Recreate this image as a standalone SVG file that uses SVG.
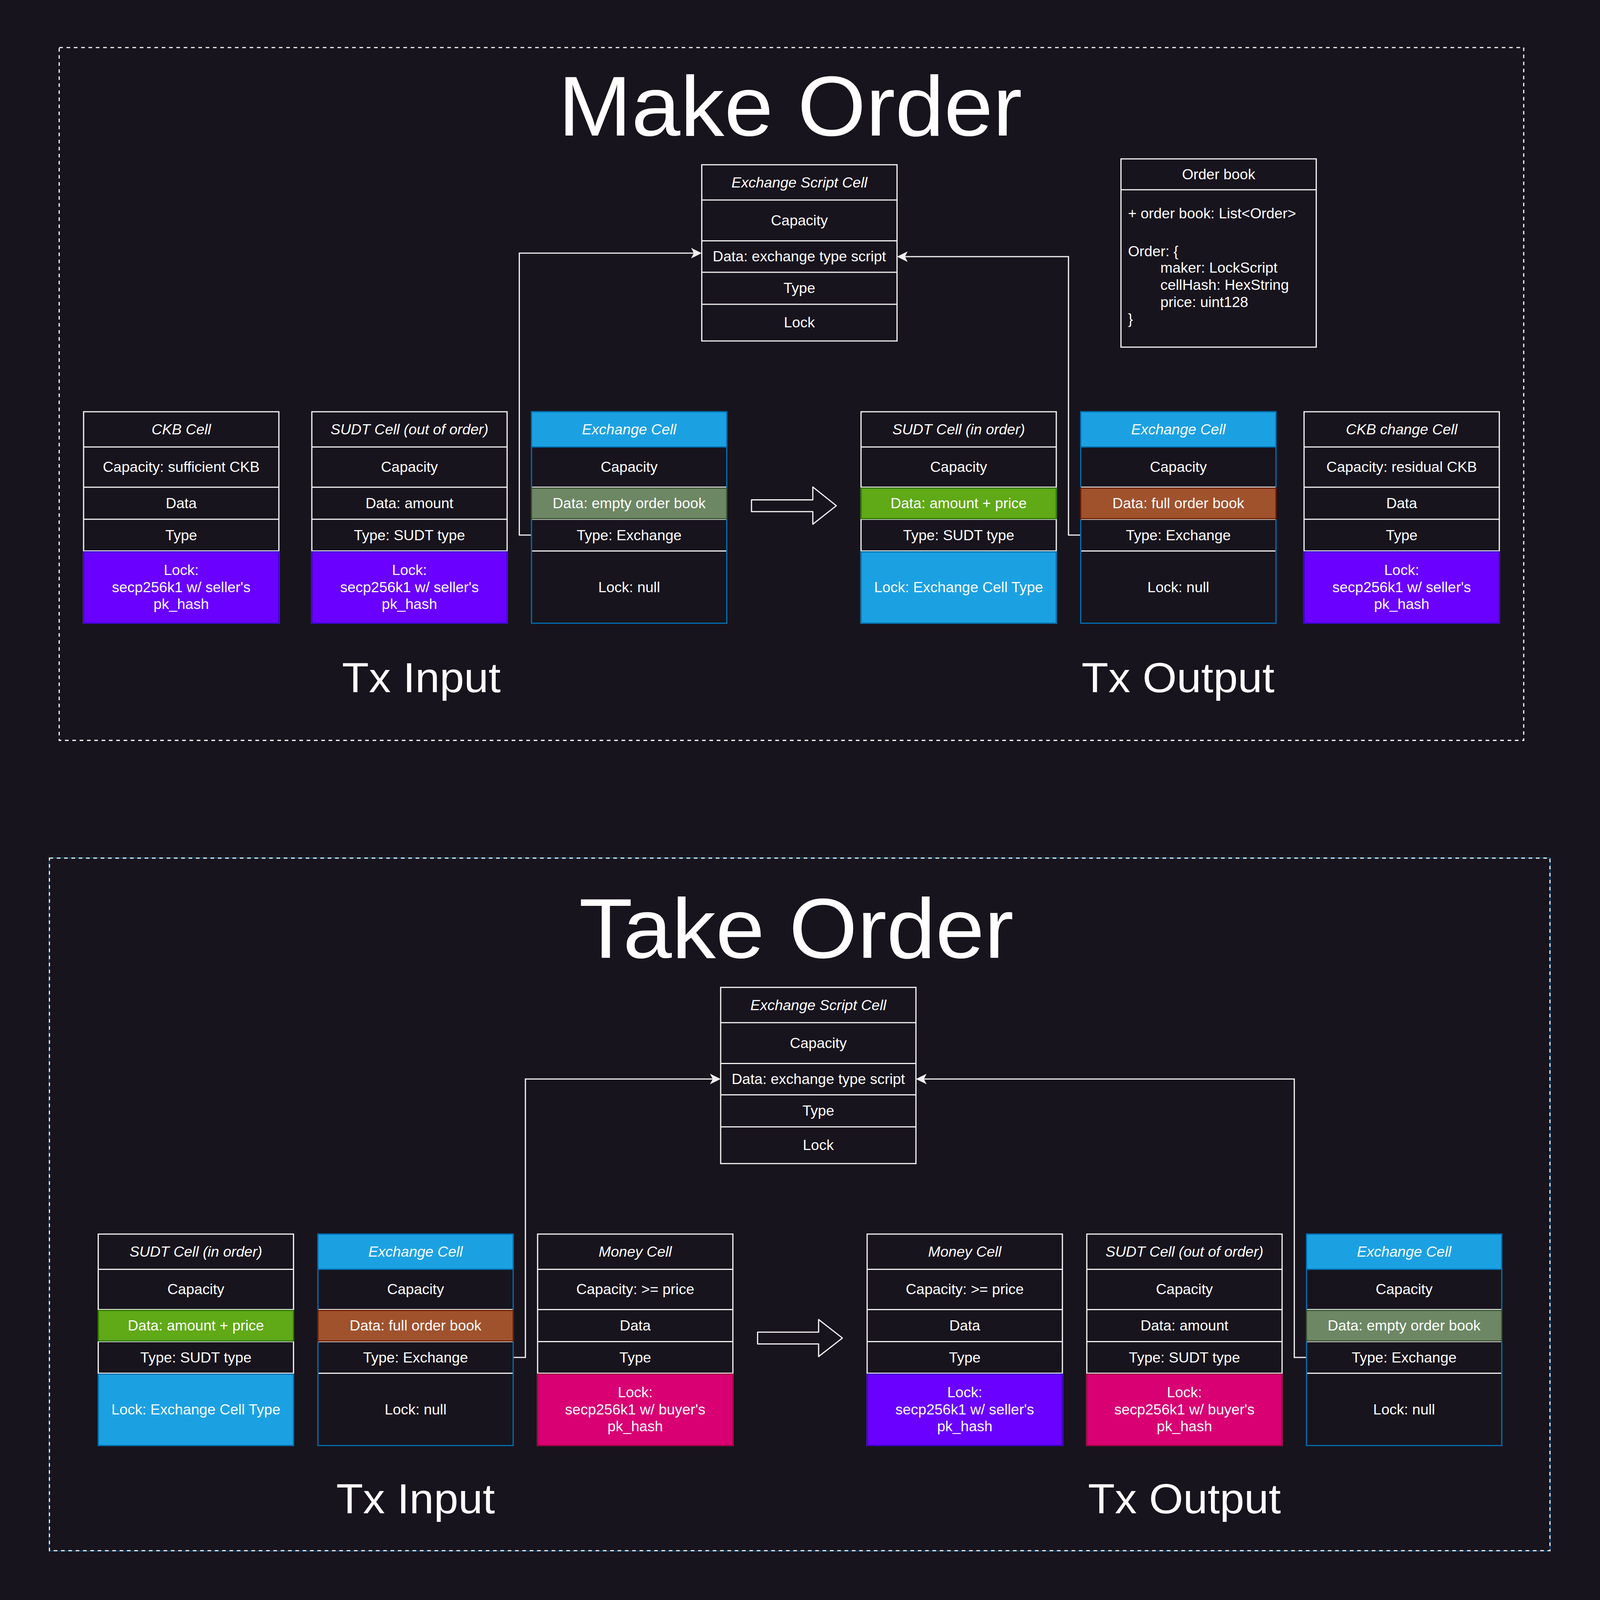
<svg xmlns="http://www.w3.org/2000/svg" width="5244" height="5448" viewBox="0 0 5244 5448">
<defs>
<style>
.t{font-family:"Liberation Sans",Arial,Helvetica,sans-serif;font-size:48px;fill:#ffffff;text-anchor:middle}
.l{text-anchor:start}
.i{font-style:italic}
.big{font-family:"Liberation Sans",Arial,Helvetica,sans-serif;fill:#ffffff;text-anchor:middle}
.cell{fill:#18141d;stroke:#f0f0f0;stroke-width:4}
.xcell{fill:#18141d;stroke:#006eaf;stroke-width:4}
.sep{fill:none;stroke:#f0f0f0;stroke-width:4}
.violet{fill:#6a00ff;stroke:#3700cc;stroke-width:4}
.cyan{fill:#1ba1e2;stroke:#006eaf;stroke-width:4}
.green{fill:#60a917;stroke:#2d7600;stroke-width:4}
.brown{fill:#a0522d;stroke:#6d1f00;stroke-width:4}
.olive{fill:#6d8764;stroke:#3a5431;stroke-width:4}
.pink{fill:#d80073;stroke:#a50040;stroke-width:4}
.conn{fill:none;stroke:#f0f0f0;stroke-width:4}
.harrow{fill:#18141d;stroke:#f0f0f0;stroke-width:4;stroke-linejoin:round}
.dash{fill:none;stroke:#f0f0f0;stroke-width:4;stroke-dasharray:12 12}
</style>
<marker id="ah" markerUnits="userSpaceOnUse" viewBox="-40 -20 44 40" markerWidth="44" markerHeight="40" refX="-26" refY="0" orient="auto">
<path d="M0,0 L-35,-18 L-26,0 L-35,18 Z" fill="#f0f0f0"/>
</marker>
</defs>
<rect width="5244" height="5448" fill="#18141d"/>
<g id="diagram" transform="scale(0.781083 0.751836)">
<g id="make-order-frame">
<rect class="dash" x="194" y="162" width="4800" height="2359"/>
<text class="big" x="2590" y="461" font-size="288">Make Order</text>
<text class="big" x="1381" y="2357" font-size="144">Tx Input</text>
<text class="big" x="3861" y="2357" font-size="144">Tx Output</text>
</g>

<g id="take-order-frame">
<rect x="161" y="2921" width="4920" height="2360" fill="none" stroke="#006eaf" stroke-width="2"/>
<rect class="dash" x="162" y="2922" width="4918" height="2358"/>
<text class="big" x="2610" y="3261" font-size="288">Take Order</text>
<text class="big" x="1362" y="5153" font-size="144">Tx Input</text>
<text class="big" x="3882" y="5153" font-size="144">Tx Output</text>
</g>

<g id="connectors">
<path class="conn" d="M1742,1822 H1702 V862 H2274" marker-end="url(#ah)"/>
<path class="conn" d="M3542,1822 H3502 V874 H2966" marker-end="url(#ah)"/>
<path class="conn" d="M1682,4622 H1722 V3674 H2336" marker-end="url(#ah)"/>
<path class="conn" d="M4282,4622 H4242 V3674 H3028" marker-end="url(#ah)"/>
</g>

<g id="make-script-cell" transform="translate(2300,561)">
<rect class="cell" width="640" height="600"/>
<path class="sep" d="M0,120H640M0,259H640M0,366H640M0,475H640"/>
<text class="t i" x="320" y="77">Exchange Script Cell</text>
<text class="t" x="320" y="206">Capacity</text>
<text class="t" x="320" y="329">Data: exchange type script</text>
<text class="t" x="320" y="437">Type</text>
<text class="t" x="320" y="554">Lock</text>
</g>

<g id="order-book" transform="translate(3674,541)">
<rect class="cell" width="640" height="641"/>
<path class="sep" d="M0,105H640"/>
<text class="t" x="320" y="70">Order book</text>
<text class="t l" x="23" y="203">+ order book: List&lt;Order&gt;</text>
<text class="t l" x="23" y="331">Order: {</text>
<text class="t l" x="129" y="388">maker: LockScript</text>
<text class="t l" x="129" y="446">cellHash: HexString</text>
<text class="t l" x="129" y="504">price: uint128</text>
<text class="t l" x="23" y="561">}</text>
</g>

<g id="make-in-ckb" transform="translate(274,1402)">
<rect class="cell" width="640" height="720"/>
<path class="sep" d="M0,120H640M0,257H640M0,366H640M0,474H640"/>
<rect class="violet" y="477" width="640" height="243"/>
<text class="t i" x="320" y="77">CKB Cell</text>
<text class="t" x="320" y="205">Capacity: sufficient CKB</text>
<text class="t" x="320" y="328">Data</text>
<text class="t" x="320" y="437">Type</text>
<text class="t" x="320" y="556">Lock:<tspan x="320" dy="58">secp256k1 w/ seller's</tspan><tspan x="320" dy="58">pk_hash</tspan></text>
</g>

<g id="make-in-sudt" transform="translate(1022,1402)">
<rect class="cell" width="640" height="720"/>
<path class="sep" d="M0,120H640M0,257H640M0,366H640M0,474H640"/>
<rect class="violet" y="477" width="640" height="243"/>
<text class="t i" x="320" y="77">SUDT Cell (out of order)</text>
<text class="t" x="320" y="205">Capacity</text>
<text class="t" x="320" y="328">Data: amount</text>
<text class="t" x="320" y="437">Type: SUDT type</text>
<text class="t" x="320" y="556">Lock:<tspan x="320" dy="58">secp256k1 w/ seller's</tspan><tspan x="320" dy="58">pk_hash</tspan></text>
</g>

<g id="make-in-exchange" transform="translate(1742,1402)">
<rect class="xcell" width="640" height="720"/>
<rect class="cyan" width="640" height="120"/>
<path class="sep" d="M2,257H638M2,366H638M2,474H638"/>
<rect class="olive" y="260" width="640" height="104"/>
<text class="t i" x="320" y="77">Exchange Cell</text>
<text class="t" x="320" y="205">Capacity</text>
<text class="t" x="320" y="328">Data: empty order book</text>
<text class="t" x="320" y="437">Type: Exchange</text>
<text class="t" x="320" y="614">Lock: null</text>
</g>

<g id="make-arrow">
<path class="harrow" d="M2463,1702 H2664 V1658 L2741,1722 L2664,1785 V1742 H2463 Z"/>
</g>

<g id="make-out-sudt" transform="translate(2822,1402)">
<rect class="cell" width="640" height="720"/>
<path class="sep" d="M0,120H640M0,257H640M0,366H640M0,474H640"/>
<rect class="green" y="260" width="640" height="104"/>
<rect class="cyan" y="477" width="640" height="243"/>
<text class="t i" x="320" y="77">SUDT Cell (in order)</text>
<text class="t" x="320" y="205">Capacity</text>
<text class="t" x="320" y="328">Data: amount + price</text>
<text class="t" x="320" y="437">Type: SUDT type</text>
<text class="t" x="320" y="614">Lock: Exchange Cell Type</text>
</g>

<g id="make-out-exchange" transform="translate(3542,1402)">
<rect class="xcell" width="640" height="720"/>
<rect class="cyan" width="640" height="120"/>
<path class="sep" d="M2,257H638M2,366H638M2,474H638"/>
<rect class="brown" y="260" width="640" height="104"/>
<text class="t i" x="320" y="77">Exchange Cell</text>
<text class="t" x="320" y="205">Capacity</text>
<text class="t" x="320" y="328">Data: full order book</text>
<text class="t" x="320" y="437">Type: Exchange</text>
<text class="t" x="320" y="614">Lock: null</text>
</g>

<g id="make-out-ckb-change" transform="translate(4274,1402)">
<rect class="cell" width="640" height="720"/>
<path class="sep" d="M0,120H640M0,257H640M0,366H640M0,474H640"/>
<rect class="violet" y="477" width="640" height="243"/>
<text class="t i" x="320" y="77">CKB change Cell</text>
<text class="t" x="320" y="205">Capacity: residual CKB</text>
<text class="t" x="320" y="328">Data</text>
<text class="t" x="320" y="437">Type</text>
<text class="t" x="320" y="556">Lock:<tspan x="320" dy="58">secp256k1 w/ seller's</tspan><tspan x="320" dy="58">pk_hash</tspan></text>
</g>

<g id="take-script-cell" transform="translate(2362,3362)">
<rect class="cell" width="640" height="600"/>
<path class="sep" d="M0,120H640M0,259H640M0,366H640M0,475H640"/>
<text class="t i" x="320" y="77">Exchange Script Cell</text>
<text class="t" x="320" y="206">Capacity</text>
<text class="t" x="320" y="329">Data: exchange type script</text>
<text class="t" x="320" y="437">Type</text>
<text class="t" x="320" y="554">Lock</text>
</g>

<g id="take-in-sudt" transform="translate(322,4202)">
<rect class="cell" width="640" height="720"/>
<path class="sep" d="M0,120H640M0,257H640M0,366H640M0,474H640"/>
<rect class="green" y="260" width="640" height="104"/>
<rect class="cyan" y="477" width="640" height="243"/>
<text class="t i" x="320" y="77">SUDT Cell (in order)</text>
<text class="t" x="320" y="205">Capacity</text>
<text class="t" x="320" y="328">Data: amount + price</text>
<text class="t" x="320" y="437">Type: SUDT type</text>
<text class="t" x="320" y="614">Lock: Exchange Cell Type</text>
</g>

<g id="take-in-exchange" transform="translate(1042,4202)">
<rect class="xcell" width="640" height="720"/>
<rect class="cyan" width="640" height="120"/>
<path class="sep" d="M2,257H638M2,366H638M2,474H638"/>
<rect class="brown" y="260" width="640" height="104"/>
<text class="t i" x="320" y="77">Exchange Cell</text>
<text class="t" x="320" y="205">Capacity</text>
<text class="t" x="320" y="328">Data: full order book</text>
<text class="t" x="320" y="437">Type: Exchange</text>
<text class="t" x="320" y="614">Lock: null</text>
</g>

<g id="take-in-money" transform="translate(1762,4202)">
<rect class="cell" width="640" height="720"/>
<path class="sep" d="M0,120H640M0,257H640M0,366H640M0,474H640"/>
<rect class="pink" y="477" width="640" height="243"/>
<text class="t i" x="320" y="77">Money Cell</text>
<text class="t" x="320" y="205">Capacity: &gt;= price</text>
<text class="t" x="320" y="328">Data</text>
<text class="t" x="320" y="437">Type</text>
<text class="t" x="320" y="556">Lock:<tspan x="320" dy="58">secp256k1 w/ buyer's</tspan><tspan x="320" dy="58">pk_hash</tspan></text>
</g>

<g id="take-arrow">
<path class="harrow" d="M2483,4536 H2683 V4493 L2761,4556 L2683,4619 V4576 H2483 Z"/>
</g>

<g id="take-out-money" transform="translate(2842,4202)">
<rect class="cell" width="640" height="720"/>
<path class="sep" d="M0,120H640M0,257H640M0,366H640M0,474H640"/>
<rect class="violet" y="477" width="640" height="243"/>
<text class="t i" x="320" y="77">Money Cell</text>
<text class="t" x="320" y="205">Capacity: &gt;= price</text>
<text class="t" x="320" y="328">Data</text>
<text class="t" x="320" y="437">Type</text>
<text class="t" x="320" y="556">Lock:<tspan x="320" dy="58">secp256k1 w/ seller's</tspan><tspan x="320" dy="58">pk_hash</tspan></text>
</g>

<g id="take-out-sudt" transform="translate(3562,4202)">
<rect class="cell" width="640" height="720"/>
<path class="sep" d="M0,120H640M0,257H640M0,366H640M0,474H640"/>
<rect class="pink" y="477" width="640" height="243"/>
<text class="t i" x="320" y="77">SUDT Cell (out of order)</text>
<text class="t" x="320" y="205">Capacity</text>
<text class="t" x="320" y="328">Data: amount</text>
<text class="t" x="320" y="437">Type: SUDT type</text>
<text class="t" x="320" y="556">Lock:<tspan x="320" dy="58">secp256k1 w/ buyer's</tspan><tspan x="320" dy="58">pk_hash</tspan></text>
</g>

<g id="take-out-exchange" transform="translate(4282,4202)">
<rect class="xcell" width="640" height="720"/>
<rect class="cyan" width="640" height="120"/>
<path class="sep" d="M2,257H638M2,366H638M2,474H638"/>
<rect class="olive" y="260" width="640" height="104"/>
<text class="t i" x="320" y="77">Exchange Cell</text>
<text class="t" x="320" y="205">Capacity</text>
<text class="t" x="320" y="328">Data: empty order book</text>
<text class="t" x="320" y="437">Type: Exchange</text>
<text class="t" x="320" y="614">Lock: null</text>
</g>
</g>
</svg>
